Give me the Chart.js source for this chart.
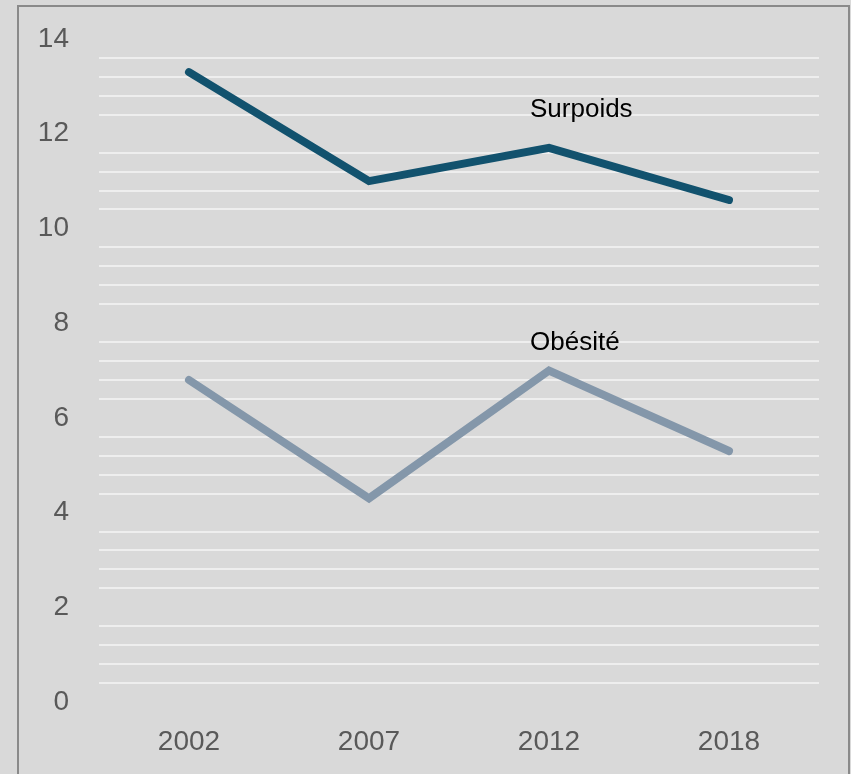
<!DOCTYPE html>
<html>
<head>
<meta charset="utf-8">
<script src="https://cdn.jsdelivr.net/npm/chart.js@4"></script>
<style>
  html, body { margin: 0; padding: 0; background: #d9d9d9; overflow: hidden; }
  #wrap { position: relative; width: 851px; height: 774px; }
  #frame {
    position: absolute; left: 17px; top: 5px; width: 829px; height: 800px;
    border: 2px solid #8a8a8a; pointer-events: none;
  }
  canvas { position: absolute; left: 0; top: 0; }
</style>
</head>
<body>
<div id="wrap">
  <canvas id="mycanvas" width="851" height="774"></canvas>
  <div id="frame"></div>
</div>
<script>
var years = ['2002', '2007', '2012', '2018'];
var surpoids = [13.3, 11.0, 11.7, 10.6];
var obesite = [6.8, 4.3, 7.0, 5.3];

// true on the even values that carry a label (and get no grid line)
function isMajor(v) {
  var r = Math.round(v * 10);
  return r % 20 === 0;
}

// writes each series name just above its 2012 point
var seriesNames = {
  id: 'seriesNames',
  afterDatasetsDraw: function(chart) {
    var ctx = chart.ctx;
    ctx.save();
    ctx.font = '26px "Liberation Sans", Arial, sans-serif';
    ctx.fillStyle = '#000000';
    ctx.textAlign = 'left';
    ctx.textBaseline = 'middle';
    chart.data.datasets.forEach(function(ds, i) {
      var pt = chart.getDatasetMeta(i).data[2];
      ctx.fillText(ds.label, pt.x - 19, pt.y - ds.nameLift);
    });
    ctx.restore();
  }
};

var ctx = document.getElementById('mycanvas');

new Chart(ctx, {
  type: 'line',
  data: {
    labels: years,
    datasets: [
      {
        label: 'Surpoids',
        data: surpoids,
        borderColor: '#12526e',
        borderWidth: 8,
        borderCapStyle: 'round',
        pointRadius: 0,
        tension: 0,
        nameLift: 38
      },
      {
        label: 'Obésité',
        data: obesite,
        borderColor: '#8497aa',
        borderWidth: 8,
        borderCapStyle: 'round',
        pointRadius: 0,
        tension: 0,
        nameLift: 28
      }
    ]
  },
  options: {
    responsive: false,
    animation: false,
    layout: { padding: { top: 39, right: 32, left: 0, bottom: 0 } },
    plugins: {
      legend: { display: false },
      tooltip: { enabled: false }
    },
    scales: {
      x: {
        offset: true,
        grid: { display: false, drawTicks: false },
        border: { display: false },
        ticks: {
          color: '#595959',
          padding: 23,
          font: { family: '"Liberation Sans", Arial, sans-serif', size: 28 }
        },
        afterFit: function(scale) { scale.height = 72; }
      },
      y: {
        min: 0,
        max: 14,
        grid: {
          drawTicks: false,
          lineWidth: 2,
          color: function(c) {
            return isMajor(c.tick.value) ? 'rgba(0,0,0,0)' : '#eeeeee';
          }
        },
        border: { display: false },
        ticks: {
          stepSize: 0.4,
          autoSkip: false,
          color: '#595959',
          padding: 30,
          font: { family: '"Liberation Sans", Arial, sans-serif', size: 28 },
          callback: function(v) {
            return isMajor(v) ? String(Math.round(v)) : '';
          }
        },
        afterFit: function(scale) {
          scale.width = 99;
          // tick padding would otherwise push the plot down
          scale.paddingTop = 0;
          scale.paddingBottom = 0;
        }
      }
    }
  },
  plugins: [seriesNames]
});
</script>
</body>
</html>
